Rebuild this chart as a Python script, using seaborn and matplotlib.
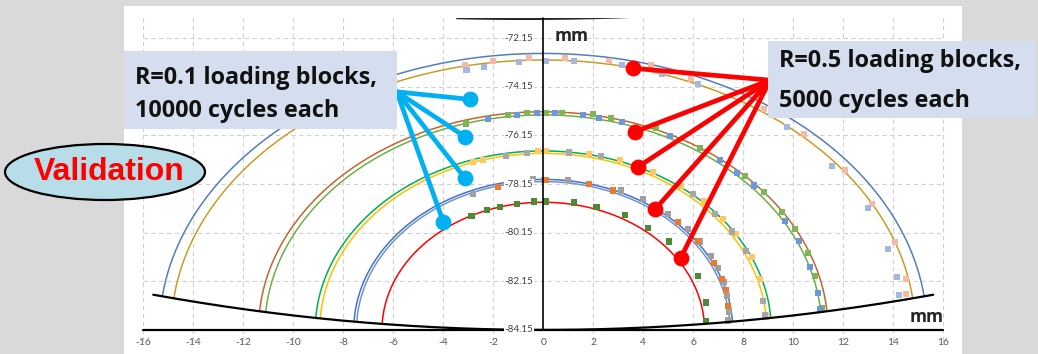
import numpy as np
import pandas as pd
import matplotlib.pyplot as plt
import seaborn as sns
from matplotlib.patches import Ellipse, Rectangle

# crack-front fits: semi-axes (mm) of ellipses centred at (0, -84.15)
y0 = -84.15
fit_a = [15.35, 14.88, 11.39, 11.14, 9.12, 8.94, 7.58, 7.47, 6.45]
fit_b = [11.37, 11.10, 8.97, 8.84, 7.36, 7.26, 6.19, 6.10, 5.25]
fit_colors = ["#527FBB", "#C99C24", "#C0652E", "#70AD47", "#00B050",
              "#FFC000", "#4472C4", "#6F92D8", "#FF0000"]

# specimen surface (curvature coefficient, half width)
surf_k = 0.00595
surf_half = 15.6

# measured beach marks
pink_x = [-3.13, -2.0, -0.56, 0.88, 2.64, 4.31, 5.91, 8.84, 10.43, 12.07, 13.16, 14.07, 14.5, 14.5]
pink_y = [-73.27, -73.09, -72.96, -72.96, -73.08, -73.27, -73.81, -75.08, -76.1, -77.57, -78.97, -80.52, -82.07, -82.67]
lblue_x = [-3.07, -2.36, -0.97, 0.1, 1.23, 3.14, 4.74, 6.2, 9.74, 11.54, 13.0, 13.78, 14.14, 14.23]
lblue_y = [-73.46, -73.33, -73.12, -73.08, -73.08, -73.26, -73.64, -74.04, -75.79, -77.41, -79.15, -80.83, -81.96, -82.71]
olive_x = [-3.1, -1.4, -0.66, 0.1, 0.74, 2.0, 2.71, 4.51, 6.27, 8.07, 8.83, 9.56, 10.07, 10.6, 10.87, 11.16]
olive_y = [-75.66, -75.31, -75.24, -75.22, -75.24, -75.28, -75.42, -75.83, -76.68, -77.82, -78.49, -79.31, -80.01, -81.0, -81.93, -83.26]
mblue_x = [-2.22, -1.06, -0.26, 0.47, 1.6, 2.23, 3.14, 5.07, 7.07, 7.76, 8.43, 9.67, 10.24, 10.67, 10.98, 11.07]
mblue_y = [-75.48, -75.31, -75.24, -75.24, -75.31, -75.42, -75.59, -76.16, -77.16, -77.71, -78.21, -79.66, -80.49, -81.55, -82.62, -83.3]
yel_x = [-2.8, -2.4, -0.2, 0.11, 1.84, 3.07, 4.38, 5.51, 6.43, 7.2, 7.71, 8.36, 8.67, 8.91]
yel_y = [-77.26, -77.16, -76.78, -76.78, -76.9, -77.16, -77.66, -78.23, -78.87, -79.6, -80.2, -81.16, -82.06, -83.6]
gray3_x = [-1.49, -0.64, 1.04, 2.31, 3.67, 5.98, 6.87, 7.54, 8.11, 8.8, 8.87]
gray3_y = [-77.0, -76.88, -76.85, -77.01, -77.4, -78.57, -79.38, -80.1, -80.89, -82.95, -83.54]
gray4_x = [-2.82, -0.42, 0.04, 1.0, 3.1, 3.98, 4.98, 5.78, 6.27, 6.7, 6.98, 7.23, 7.36, 7.44, 7.4]
gray4_y = [-78.56, -77.96, -77.99, -78.0, -78.42, -78.78, -79.38, -79.99, -80.51, -81.1, -81.6, -82.17, -82.77, -83.39, -83.76]
orng_x = [-1.8, 0.1, 1.84, 2.8, 5.4, 6.18, 6.84, 7.14, 7.3, 7.4]
orng_y = [-78.26, -77.97, -78.15, -78.42, -79.72, -80.49, -81.4, -82.07, -82.52, -83.15]
dgrn_x = [-2.87, -2.24, -1.73, -1.06, -0.37, 0.11, 1.24, 2.13, 3.27, 4.19, 5.04, 6.18, 6.51, 6.51]
dgrn_y = [-79.46, -79.23, -79.09, -78.97, -78.87, -78.87, -78.91, -79.1, -79.44, -79.97, -80.51, -81.93, -83.02, -83.77]

series_colors = {"pink": "#F4B9A7", "lblue": "#A4B8DF", "olive": "#7DB657", "mblue": "#6A98DA",
                 "yel": "#FFC864", "gray3": "#A8A8A8", "gray4": "#A0A0A0", "orng": "#E87B30",
                 "dgrn": "#4E8A35"}

# annotation pointers
blue_src = (-5.86, -74.36)
blue_tx = [-2.93, -3.13, -3.13, -4.0]
blue_ty = [-74.67, -76.2, -77.91, -79.7]
red_src = (9.07, -73.88)
red_tx = [3.6, 3.67, 3.8, 4.47, 5.5]
red_ty = [-73.39, -76.0, -77.44, -79.19, -81.18]

xticks = np.arange(-16, 17, 2)
yticks = [-72.15, -74.15, -76.15, -78.15, -80.15, -82.15, -84.15]

sns.set_style("white")
plt.rcParams["font.family"] = ["Lato", "DejaVu Sans"]
bold_font = ["Open Sans", "DejaVu Sans"]

fig = plt.figure(figsize=(10.38, 3.54), dpi=100, facecolor="#D9D9D9")
ax = fig.add_axes([124 / 1038, 0, 838 / 1038, 348 / 354])
ax.set_facecolor("white")
ax.set_xlim(-16.77, 16.75)
ax.set_ylim(-85.14, -70.83)
ax.axis("off")
ax.add_patch(Rectangle((0, 0), 1, 1, transform=ax.transAxes, color="white", zorder=0))

# grid
top = -71.33
ax.vlines([x for x in xticks if x != 0], -84.6, top, colors="#D0D0D0", lw=0.8,
          linestyles=(0, (4, 3)), zorder=1)
ax.hlines(yticks[:-1], -16, 16, colors="#D0D0D0", lw=0.8, linestyles=(0, (4, 3)), zorder=1)

# axes lines
ax.plot([-16, 16], [y0, y0], color="black", lw=1.6, zorder=4)
ax.plot([0, 0], [y0, top], color="black", lw=1.2, zorder=4)
lx = np.linspace(-3.5, 3.45, 100)
ax.fill_between(lx, top + 0.02 - 0.07 * (1 - ((lx + 0.8) / 4.3) ** 2), top + 0.02,
                color="black", lw=0, zorder=4)

# specimen surface
sx = np.linspace(-surf_half, surf_half, 200)
ax.plot(sx, y0 + surf_k * sx ** 2, color="black", lw=1.6, zorder=4)

# fitted crack fronts
t = np.linspace(0, np.pi, 600)
for a, b, c in zip(fit_a, fit_b, fit_colors):
    ex = a * np.cos(t)
    ey = y0 + b * np.sin(t)
    keep = ey >= y0 + surf_k * ex ** 2
    ax.plot(ex[keep], ey[keep], color=c, lw=1.1, zorder=2)

# measured points
frames = []
for name, xs, ys in [("pink", pink_x, pink_y), ("lblue", lblue_x, lblue_y),
                     ("olive", olive_x, olive_y), ("mblue", mblue_x, mblue_y),
                     ("yel", yel_x, yel_y), ("gray3", gray3_x, gray3_y),
                     ("gray4", gray4_x, gray4_y), ("orng", orng_x, orng_y),
                     ("dgrn", dgrn_x, dgrn_y)]:
    frames.append(pd.DataFrame({"x": xs, "y": ys, "series": name}))
pts = pd.concat(frames, ignore_index=True)
sns.scatterplot(data=pts, x="x", y="y", hue="series", palette=series_colors, marker="s",
                s=20, linewidth=0, legend=False, ax=ax, zorder=3)

# tick labels
for x in xticks:
    ax.text(x, -84.68, f"{x}", ha="center", va="center", fontsize=7.5, color="#595959")
for y in yticks:
    ax.text(-0.4, y, f"{y:.2f}", ha="right", va="center", fontsize=7, color="#404040",
            bbox=dict(facecolor="white", edgecolor="none", pad=0.5), zorder=5)
ax.text(0.45, -72.08, "mm", ha="left", va="center", fontsize=12.5, fontweight="bold",
        family=bold_font)
ax.text(16.0, -83.63, "mm", ha="right", va="center", fontsize=12.5, fontweight="bold",
        family=bold_font)

# pointers
for tx, ty in zip(blue_tx, blue_ty):
    ax.plot([blue_src[0], tx], [blue_src[1], ty], color="#00B0F0", lw=3.4,
            solid_capstyle="round", zorder=6)
ax.scatter(blue_tx, blue_ty, s=130, color="#00B0F0", zorder=7, linewidth=0)
for tx, ty in zip(red_tx, red_ty):
    ax.plot([red_src[0], tx], [red_src[1], ty], color="#FF0000", lw=3.4,
            solid_capstyle="round", zorder=6)
ax.scatter(red_tx, red_ty, s=130, color="#FF0000", zorder=7, linewidth=0)

# overlay in pixel coordinates for the slide callouts
ov = fig.add_axes([0, 0, 1, 1], zorder=5)
ov.set_xlim(0, 1038)
ov.set_ylim(354, 0)
ov.axis("off")
ov.patch.set_alpha(0)

box_kw = dict(fontsize=16.8, fontweight="bold", va="baseline", family=bold_font, color="#111111")
ov.add_patch(Rectangle((124, 51), 273, 78, facecolor="#D5DEEE", edgecolor="none"))
ov.text(135, 84, "R=0.1 loading blocks,", **box_kw)
ov.text(135, 117, "10000 cycles each", **box_kw)
ov.add_patch(Rectangle((768, 41), 268, 77, facecolor="#D5DEEE", edgecolor="none"))
ov.text(779, 67, "R=0.5 loading blocks,", **box_kw)
ov.text(779, 107, "5000 cycles each", **box_kw)

ov.add_patch(Ellipse((105, 172), 200, 56, facecolor="#B7DEE8", edgecolor="black", lw=1.6))
ov.text(109, 172, "Validation", ha="center", va="center", fontsize=23, fontweight="bold",
        color="#FF0000", family=["Liberation Sans", "DejaVu Sans"])

fig.savefig("out.png", dpi=100, facecolor=fig.get_facecolor())
